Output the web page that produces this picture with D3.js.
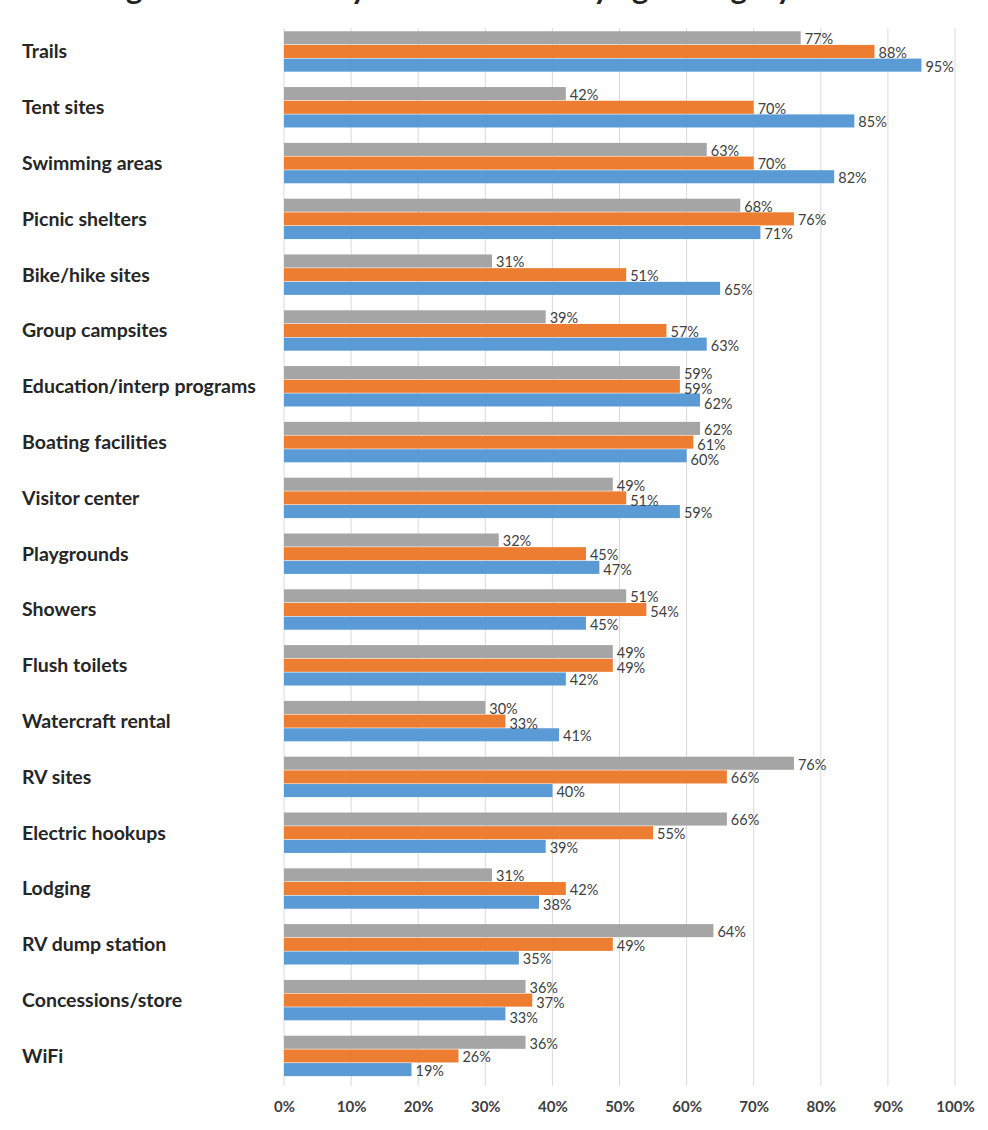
<!DOCTYPE html>
<html>
<head>
<meta charset="utf-8">
<script src="https://cdn.jsdelivr.net/npm/d3@7"></script>
<style>
  html, body { margin: 0; padding: 0; background: #ffffff; }
  svg { display: block; }
</style>
</head>
<body>
<svg id="chart" width="988" height="1130"></svg>
<script>
// ---- data ----
const categories = [
  "Trails", "Tent sites", "Swimming areas", "Picnic shelters", "Bike/hike sites",
  "Group campsites", "Education/interp programs", "Boating facilities", "Visitor center",
  "Playgrounds", "Showers", "Flush toilets", "Watercraft rental", "RV sites",
  "Electric hookups", "Lodging", "RV dump station", "Concessions/store", "WiFi"
];
const seriesKeys = ["gray", "orange", "blue"];
const grayValues   = [77, 42, 63, 68, 31, 39, 59, 62, 49, 32, 51, 49, 30, 76, 66, 31, 64, 36, 36];
const orangeValues = [88, 70, 70, 76, 51, 57, 59, 61, 51, 45, 54, 49, 33, 66, 55, 42, 49, 37, 26];
const blueValues   = [95, 85, 82, 71, 65, 63, 62, 60, 59, 47, 45, 42, 41, 40, 39, 38, 35, 33, 19];
const xTickValues  = [0, 10, 20, 30, 40, 50, 60, 70, 80, 90, 100];
const titleText = "Percentage of each facility used the most by age category";

const valuesByKey = { gray: grayValues, orange: orangeValues, blue: blueValues };
const colors = { gray: "#A5A5A5", orange: "#ED7D31", blue: "#5B9BD5" };

const rows = categories.map((c, i) => ({
  category: c,
  values: seriesKeys.map(k => ({ key: k, value: valuesByKey[k][i] }))
}));

// ---- layout ----
const svg = d3.select("#chart");
const plotLeft = 284, plotRight = 955, plotTop = 24, plotBottom = 1084;
const FONT = "Lato, 'Open Sans', sans-serif";

const x = d3.scaleLinear().domain([0, 100]).range([plotLeft, plotRight]);
const y = d3.scaleBand().domain(categories).range([plotTop, plotBottom]).paddingInner(0.265).paddingOuter(0.13);
const ySub = d3.scaleBand().domain(seriesKeys).range([0, y.bandwidth()]).padding(0);

// title, cut off at the top edge as in the reference (only descenders show)
svg.append("text")
  .attr("x", 4).attr("y", -1)
  .attr("font-family", FONT)
  .attr("font-weight", "bold")
  .attr("font-size", 31)
  .attr("fill", "#222")
  .text(titleText);

// gridlines
svg.append("g").selectAll("line")
  .data(xTickValues)
  .join("line")
  .attr("x1", d => x(d)).attr("x2", d => x(d))
  .attr("y1", plotTop + 4).attr("y2", plotBottom + 2)
  .attr("stroke", "#D9D9D9").attr("stroke-width", 1);

// x tick labels via axis
const xAxis = d3.axisBottom(x).tickValues(xTickValues).tickFormat(d => d + "%").tickSize(0).tickPadding(0);
const gx = svg.append("g").attr("transform", `translate(0, ${plotBottom + 17})`).call(xAxis);
gx.select(".domain").remove();
gx.selectAll("text")
  .attr("font-family", FONT)
  .attr("font-weight", "bold")
  .attr("font-size", 15)
  .attr("fill", "#404040");

// category labels via axis
const yAxis = d3.axisLeft(y).tickSize(0).tickPadding(0);
const gy = svg.append("g").call(yAxis);
gy.select(".domain").remove();
gy.selectAll("text")
  .attr("text-anchor", "start")
  .attr("x", 22)
  .attr("dy", "0.34em")
  .attr("font-family", FONT)
  .attr("font-weight", "bold")
  .attr("font-size", 19.5)
  .attr("fill", "#262626");

// bars
const groups = svg.append("g").selectAll("g")
  .data(rows)
  .join("g")
  .attr("transform", d => `translate(0, ${y(d.category)})`);

groups.selectAll("rect")
  .data(d => d.values)
  .join("rect")
  .attr("x", x(0))
  .attr("y", d => ySub(d.key))
  .attr("width", d => x(d.value) - x(0))
  .attr("height", ySub.bandwidth() - 0.6)
  .attr("fill", d => colors[d.key]);

// data labels, nudged apart vertically when they would collide
const labelFont = 14.5, labelGap = 15;
groups.each(function (d) {
  const g = d3.select(this);
  const labels = g.selectAll("text.val")
    .data(d.values)
    .join("text")
    .attr("class", "val")
    .attr("x", v => x(v.value) + 4)
    .attr("font-family", FONT)
    .attr("font-size", labelFont)
    .attr("fill", "#404040")
    .attr("dy", "0.35em")
    .text(v => v.value + "%");
  const nodes = labels.nodes();
  const widths = nodes.map(n => n.getComputedTextLength());
  const ys = d.values.map(v => ySub(v.key) + ySub.bandwidth() / 2 + 1);
  for (let i = 1; i < ys.length; i++) {
    for (let j = 0; j < i; j++) {
      const xi = x(d.values[i].value) + 4, xj = x(d.values[j].value) + 4;
      const hOverlap = xi < xj + widths[j] && xj < xi + widths[i];
      if (hOverlap && ys[i] - ys[j] < labelGap) ys[i] = ys[j] + labelGap;
    }
  }
  labels.attr("y", (v, i) => ys[i]);
});
</script>
</body>
</html>
